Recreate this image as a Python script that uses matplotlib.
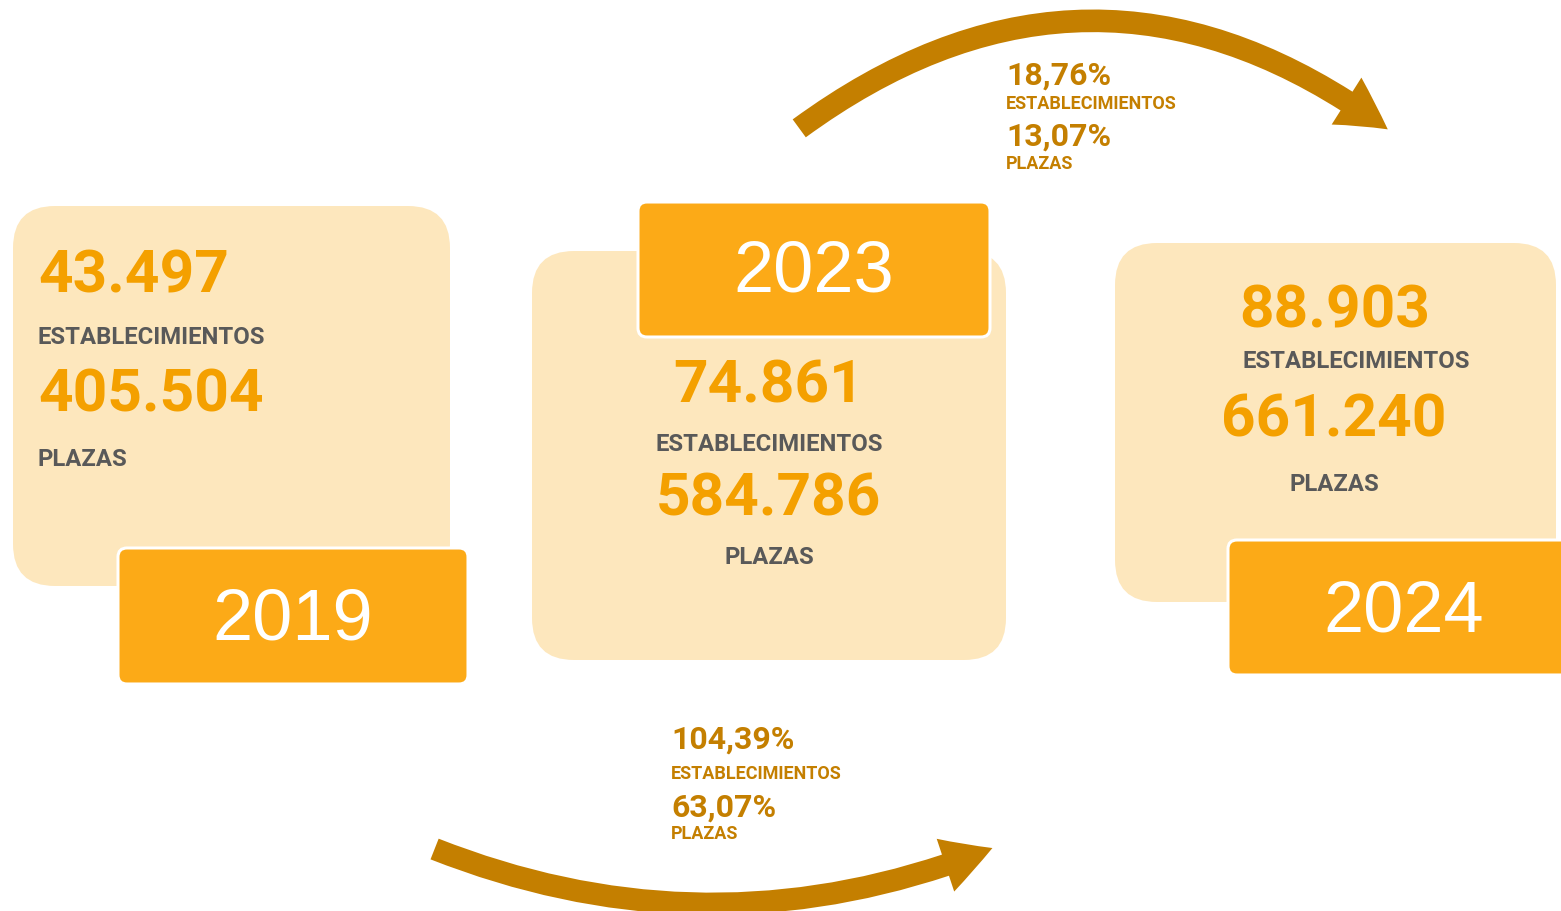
import matplotlib.pyplot as plt
from matplotlib.patches import FancyBboxPatch, FancyArrowPatch

years = ['2019', '2023', '2024']
establecimientos = [43497, 74861, 88903]
plazas = [405504, 584786, 661240]
cambio_2023_2024 = ['18,76%', '13,07%']
cambio_2019_2024 = ['104,39%', '63,07%']

light = '#FDE7BD'
dark = '#FCAA17'
num_col = '#F4A000'
grey = '#595959'
brown = '#C47F00'


def fmt(n):
    return f'{n:,}'.replace(',', '.')


fig = plt.figure(figsize=(15.61, 9.12), dpi=100)
ax = fig.add_axes([0, 0, 1, 1])
ax.set_xlim(0, 1561)
ax.set_ylim(912, 0)
ax.axis('off')

# card layout: light box, year box, text anchor x, alignment, baselines
cards = [
    dict(light=(13, 207, 437, 380), year=(118, 549, 350, 136), year_x=293, year_y=640,
         tx=[38, 38, 38, 38], ha='left', ys=[293, 344, 412, 466]),
    dict(light=(532, 252, 474, 409), year=(638, 203, 352, 135), year_x=814, year_y=292,
         tx=[769, 769, 769, 769], ha='center', ys=[403, 451, 516, 564]),
    dict(light=(1115, 244, 441, 359), year=(1228, 541, 360, 135), year_x=1404, year_y=632,
         tx=[1335, 1356, 1334, 1334], ha='center', ys=[328, 368, 437, 491]),
]

for i, c in enumerate(cards):
    x, y, w, h = c['light']
    ax.add_patch(FancyBboxPatch((x, y), w, h, boxstyle='round,pad=0,rounding_size=42',
                                fc=light, ec='none', zorder=1))
    x, y, w, h = c['year']
    ax.add_patch(FancyBboxPatch((x, y), w, h, boxstyle='round,pad=0,rounding_size=9',
                                fc=dark, ec='white', lw=2.2, zorder=2))
    ax.text(c['year_x'], c['year_y'], years[i], color='white', fontsize=52,
            family='Liberation Sans', ha='center', va='baseline', zorder=3)
    tx, ys = c['tx'], c['ys']
    ax.text(tx[0], ys[0], fmt(establecimientos[i]), color=num_col, fontsize=43.5,
            fontweight='bold', family='Roboto', ha=c['ha'], va='baseline', zorder=3)
    ax.text(tx[1], ys[1], 'ESTABLECIMIENTOS', color=grey, fontsize=17.2,
            fontweight='bold', family='Roboto', ha=c['ha'], va='baseline', zorder=3)
    ax.text(tx[2], ys[2], fmt(plazas[i]), color=num_col, fontsize=43.5,
            fontweight='bold', family='Roboto', ha=c['ha'], va='baseline', zorder=3)
    ax.text(tx[3], ys[3], 'PLAZAS', color=grey, fontsize=17.2,
            fontweight='bold', family='Roboto', ha=c['ha'], va='baseline', zorder=3)

# curved arrows
arrow_style = 'simple,tail_width=16,head_width=40,head_length=36'
ax.add_patch(FancyArrowPatch((797, 131), (1390, 132), connectionstyle='arc3,rad=-0.37',
                             arrowstyle=arrow_style, mutation_scale=1, fc=brown, ec='none'))
ax.add_patch(FancyArrowPatch((432, 849), (995, 848), connectionstyle='arc3,rad=0.2',
                             arrowstyle=arrow_style, mutation_scale=1, fc=brown, ec='none'))

# change labels
for (x, ys), vals in [((1006, [85, 109, 146, 169]), cambio_2023_2024),
                      ((671, [749, 779, 817, 839]), cambio_2019_2024)]:
    ax.text(x, ys[0], vals[0], color=brown, fontsize=23, fontweight='bold',
            family='Roboto', va='baseline')
    ax.text(x, ys[1], 'ESTABLECIMIENTOS', color=brown, fontsize=13,
            fontweight='bold', family='Roboto', va='baseline')
    ax.text(x, ys[2], vals[1], color=brown, fontsize=23, fontweight='bold',
            family='Roboto', va='baseline')
    ax.text(x, ys[3], 'PLAZAS', color=brown, fontsize=13,
            fontweight='bold', family='Roboto', va='baseline')

fig.savefig('out.png', dpi=100)
